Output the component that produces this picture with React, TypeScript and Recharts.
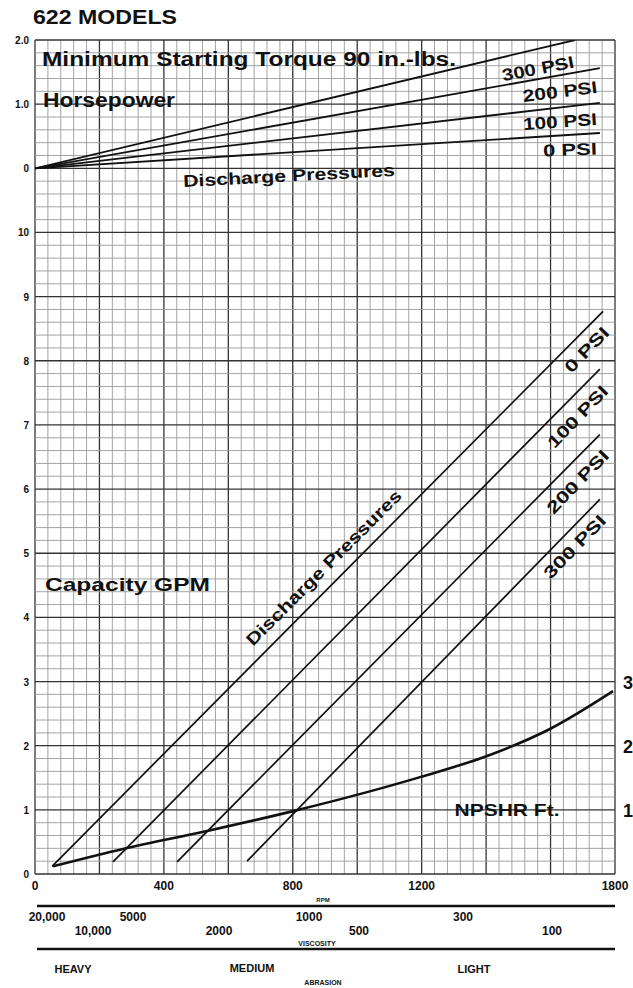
import React from 'react';
import { LineChart, Line, XAxis, YAxis, ReferenceLine } from 'recharts';

// ---- axis ticks ----
const rpmTicks = [0, 400, 800, 1200, 1800];
const leftTickValues = [0, 1, 2, 3, 4, 5, 6, 7, 8, 9, 10, 11, 12, 13];
const leftTickLabels = ['0', '1', '2', '3', '4', '5', '6', '7', '8', '9', '10', '0', '1.0', '2.0'];
const npshrTicks = [1, 2, 3];

// horsepower panel sits above the capacity panel (hp 0 = 11 on the shared scale)
const hpBase = 11;

// ---- Horsepower vs RPM (discharge pressures) ----
const hp300Rpm = [0, 1676];
const hp300 = [0, 2.0];
const hp200Rpm = [0, 1753];
const hp200 = [0, 1.56];
const hp100Rpm = [0, 1753];
const hp100 = [0, 1.02];
const hp0Rpm = [0, 1753];
const hp0 = [0, 0.55];

// ---- Capacity GPM vs RPM ----
const cap0Rpm = [53, 1763];
const cap0 = [0.12, 8.77];
const cap100Rpm = [242, 1753];
const cap100 = [0.19, 7.87];
const cap200Rpm = [441, 1753];
const cap200 = [0.19, 6.85];
const cap300Rpm = [658, 1753];
const cap300 = [0.2, 5.84];

// ---- NPSHR Ft. vs RPM ----
const npshrRpm = [56, 273, 534, 801, 1195, 1403, 1598, 1794];
const npshr = [0.12, 0.39, 0.67, 0.98, 1.51, 1.84, 2.26, 2.85];

// ---- lower scales ----
const viscosityRow1 = ['20,000', '5000', '1000', '300'];
const viscosityRow2 = ['10,000', '2000', '500', '100'];
const abrasionLabels = ['HEAVY', 'MEDIUM', 'LIGHT'];

const FONT = '"Liberation Sans", Arial, Helvetica, sans-serif';

const pts = (xs: number[], ys: number[], base = 0) =>
  xs.map((x, i) => ({ rpm: x, v: base + ys[i] }));

const gridX = Array.from({ length: 46 }, (_, i) => i * 40);
const gridY = Array.from({ length: 66 }, (_, i) => Math.round(i * 0.2 * 100) / 100);

const LeftTick = (props: any) => {
  const { x, y, payload } = props;
  const idx = leftTickValues.indexOf(payload.value);
  return (
    <text x={x} y={y} dy={4} textAnchor="end" fontFamily={FONT} fontWeight="bold" fontSize={10} fill="#111">
      {leftTickLabels[idx]}
    </text>
  );
};

const RightTick = (props: any) => {
  const { x, y, payload } = props;
  return (
    <text x={x} y={y} dy={7} textAnchor="start" fontFamily={FONT} fontWeight="bold" fontSize={18} fill="#111">
      {payload.value}
    </text>
  );
};

const BottomTick = (props: any) => {
  const { x, y, payload } = props;
  return (
    <text x={x} y={y} dy={10} textAnchor="middle" fontFamily={FONT} fontWeight="bold" fontSize={12} fill="#111">
      {payload.value}
    </text>
  );
};

const T = ({ x, y, s, size, rot = 0, len, anchor = 'middle' }: any) => (
  <text
    x={x}
    y={y}
    fontFamily={FONT}
    fontWeight="bold"
    fontSize={size}
    fill="#111"
    textAnchor={anchor}
    dominantBaseline="central"
    transform={rot ? `rotate(${rot} ${x} ${y})` : undefined}
    textLength={len}
    lengthAdjust={len ? 'spacingAndGlyphs' : undefined}
  >
    {s}
  </text>
);

export default function App() {
  const lineProps = {
    type: 'linear' as const,
    dataKey: 'v',
    dot: false,
    activeDot: false,
    isAnimationActive: false,
    stroke: '#111',
    yAxisId: 'L',
  };
  return (
    <div style={{ position: 'absolute', left: 0, top: 0, width: 633, height: 988, background: '#fff', overflow: 'hidden' }}>
      <LineChart width={633} height={988} margin={{ top: 40, right: 0, bottom: 94, left: 5 }}>
        <XAxis
          type="number"
          dataKey="rpm"
          domain={[0, 1800]}
          ticks={rpmTicks}
          allowDataOverflow
          axisLine={false}
          tickLine={false}
          tickSize={0}
          tickMargin={6}
          height={20}
          tick={<BottomTick />}
          interval={0}
        />
        <YAxis
          yAxisId="L"
          type="number"
          domain={[0, 13]}
          ticks={leftTickValues}
          allowDataOverflow
          axisLine={false}
          tickLine={false}
          tickSize={0}
          tickMargin={6}
          width={30}
          tick={<LeftTick />}
          interval={0}
        />
        <YAxis
          yAxisId="R"
          orientation="right"
          type="number"
          domain={[0, 13]}
          ticks={npshrTicks}
          allowDataOverflow
          axisLine={false}
          tickLine={false}
          tickSize={0}
          tickMargin={8}
          width={18}
          tick={<RightTick />}
          interval={0}
        />
        {gridX.map((v, i) => (
          <ReferenceLine
            key={'gx' + i}
            x={v}
            yAxisId="L"
            stroke={i % 5 === 0 ? '#333' : '#9a9a9a'}
            strokeWidth={i % 5 === 0 ? 1.3 : 0.9}
            ifOverflow="visible"
          />
        ))}
        {gridY.map((v, i) => (
          <ReferenceLine
            key={'gy' + i}
            y={v}
            yAxisId="L"
            stroke={i % 5 === 0 ? '#333' : '#9a9a9a'}
            strokeWidth={i % 5 === 0 ? 1.3 : 0.9}
            ifOverflow="visible"
          />
        ))}

        <Line {...lineProps} data={pts(hp300Rpm, hp300, hpBase)} strokeWidth={1.8} />
        <Line {...lineProps} data={pts(hp200Rpm, hp200, hpBase)} strokeWidth={1.8} />
        <Line {...lineProps} data={pts(hp100Rpm, hp100, hpBase)} strokeWidth={1.8} />
        <Line {...lineProps} data={pts(hp0Rpm, hp0, hpBase)} strokeWidth={1.8} />

        <Line {...lineProps} data={pts(cap0Rpm, cap0)} strokeWidth={1.7} />
        <Line {...lineProps} data={pts(cap100Rpm, cap100)} strokeWidth={1.7} />
        <Line {...lineProps} data={pts(cap200Rpm, cap200)} strokeWidth={1.7} />
        <Line {...lineProps} data={pts(cap300Rpm, cap300)} strokeWidth={1.7} />

        <Line {...lineProps} yAxisId="R" type="monotone" data={pts(npshrRpm, npshr)} strokeWidth={2.6} />
      </LineChart>

      <svg width={633} height={988} style={{ position: 'absolute', left: 0, top: 0, pointerEvents: 'none' }}>
        <T x={33} y={17} s="622 MODELS" size={20} anchor="start" len={144} />

        <T x={42} y={59} s="Minimum Starting Torque 90 in.-lbs." size={20} anchor="start" len={414} />
        <T x={43} y={100} s="Horsepower" size={20} anchor="start" len={132} />
        <T x={289} y={176} s="Discharge Pressures" size={17} rot={-3} len={212} />
        <T x={538} y={69} s="300 PSI" size={17} rot={-11} len={73} />
        <T x={560} y={92} s="200 PSI" size={17} rot={-7} len={75} />
        <T x={560} y={122} s="100 PSI" size={17} rot={-4} len={74} />
        <T x={570} y={150} s="0 PSI" size={17} rot={-2} len={54} />

        <T x={45} y={584} s="Capacity GPM" size={19} anchor="start" len={165} />
        <T x={324} y={568} s="Discharge Pressures" size={17} rot={-45} len={212} />
        <T x={587} y={350} s="0 PSI" size={17} rot={-46} len={56} />
        <T x={578} y={417} s="100 PSI" size={17} rot={-46} len={79} />
        <T x={578} y={482} s="200 PSI" size={17} rot={-46} len={81} />
        <T x={575} y={547} s="300 PSI" size={17} rot={-46} len={81} />
        <T x={507} y={810} s="NPSHR Ft." size={17} len={105} />

        <T x={323} y={900} s="RPM" size={6} />
        <line x1={37} y1={906} x2={615} y2={906} stroke="#111" strokeWidth={2.5} />
        <T x={47} y={917} s={viscosityRow1[0]} size={12} />
        <T x={133} y={917} s={viscosityRow1[1]} size={12} />
        <T x={309} y={917} s={viscosityRow1[2]} size={12} />
        <T x={463} y={917} s={viscosityRow1[3]} size={12} />
        <T x={93} y={931} s={viscosityRow2[0]} size={12} />
        <T x={219} y={931} s={viscosityRow2[1]} size={12} />
        <T x={359} y={931} s={viscosityRow2[2]} size={12} />
        <T x={552} y={931} s={viscosityRow2[3]} size={12} />
        <T x={317} y={943} s="VISCOSITY" size={7} />
        <line x1={37} y1={949} x2={615} y2={949} stroke="#111" strokeWidth={2.5} />
        <T x={73} y={969} s={abrasionLabels[0]} size={11} />
        <T x={252} y={968} s={abrasionLabels[1]} size={11} />
        <T x={474} y={969} s={abrasionLabels[2]} size={11} />
        <T x={323} y={982} s="ABRASION" size={7} />
      </svg>
    </div>
  );
}
